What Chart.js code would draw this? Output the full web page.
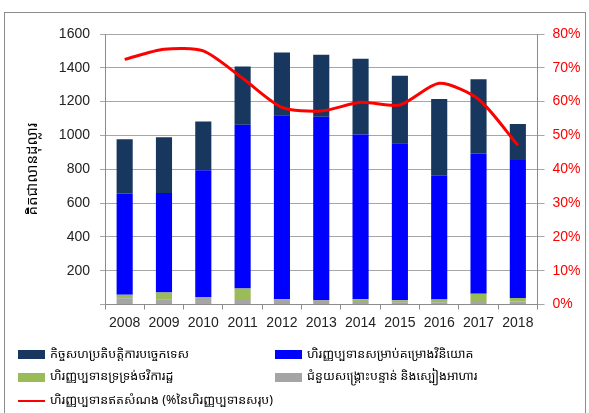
<!DOCTYPE html>
<html><head><meta charset="utf-8">
<script src="https://cdn.jsdelivr.net/npm/chart.js@4.4.1/dist/chart.umd.min.js"></script>
<style>
html,body{margin:0;padding:0;background:#fff;}
#wrap{position:relative;width:589px;height:413px;overflow:hidden;}
#frame{position:absolute;left:4px;top:12px;width:582px;height:430px;border:1px solid #8c8c8c;box-sizing:border-box;}
canvas{position:absolute;left:0;top:0;}
.lg{position:absolute;font-family:"Noto Sans Khmer","Khmer OS","Noto Sans",sans-serif;font-size:12.5px;color:#000;white-space:nowrap;line-height:16px;}
.sw{position:absolute;width:27px;height:9px;}
.ln{position:absolute;width:27px;height:2px;background:#ff0000;}
</style></head><body>
<div id="wrap">
<div id="frame"></div>
<canvas id="c" width="589" height="413"></canvas>
<div id="legend"></div>
</div>
<script>
const years = ['2008','2009','2010','2011','2012','2013','2014','2015','2016','2017','2018'];
const technicalCooperation = [322, 330, 288, 345, 371, 367, 448, 399, 454, 440, 212];
const investmentProjects = [599, 589, 749, 968, 1089, 1083, 974, 929, 732, 830, 816];
const budgetSupport = [20, 40, 6, 68, 0, 0, 16, 11, 15, 48, 21];
const emergencyFoodAid = [37, 31, 39, 27, 31, 27, 15, 14, 14, 15, 18];
const grantShare = [72.5, 75.5, 75.0, 66.9, 58.3, 57.2, 59.8, 59.0, 65.4, 60.7, 47.1];

const labelTechnical = 'កិច្ចសហប្រតិបត្តិការបច្ចេកទេស';
const labelInvestment = 'ហិរញ្ញប្បទានសម្រាប់គម្រោងវិនិយោគ';
const labelBudget = 'ហិរញ្ញប្បទានទ្រទ្រង់ថវិការដ្ឋ';
const labelEmergency = 'ជំនួយសង្គ្រោះបន្ទាន់ និងស្បៀងអាហារ';
const labelGrant = 'ហិរញ្ញប្បទានឥតសំណង (%នៃហិរញ្ញប្បទានសរុប)';
const yTitle = 'គិតជាលានដុល្លារ';

const colNavy = '#17375e', colBlue = '#0000ff', colGreen = '#9bbb59', colGray = '#a5a5a5', colRed = '#ff0000';

const barCommon = {type:'bar', order:1, yAxisID:'y', barPercentage:0.41, categoryPercentage:1, borderWidth:0};

new Chart(document.getElementById('c'), {
  data: {
    labels: years,
    datasets: [
      {type:'line', label: labelGrant, data: grantShare, yAxisID:'y1', order:0, borderColor: colRed, borderWidth:3, pointRadius:0, tension:0.25, fill:false},
      Object.assign({label: labelEmergency, data: emergencyFoodAid, backgroundColor: colGray}, barCommon),
      Object.assign({label: labelBudget, data: budgetSupport, backgroundColor: colGreen}, barCommon),
      Object.assign({label: labelInvestment, data: investmentProjects, backgroundColor: colBlue}, barCommon),
      Object.assign({label: labelTechnical, data: technicalCooperation, backgroundColor: colNavy}, barCommon)
    ]
  },
  options: {
    responsive:false, animation:false, devicePixelRatio:1,
    layout:{padding:{top:34,left:0,right:0,bottom:0}},
    plugins:{legend:{display:false}, tooltip:{enabled:false}},
    scales:{
      x:{stacked:true, offset:true,
         grid:{offset:true, drawOnChartArea:false, drawTicks:true, tickLength:5, color:'#8c8c8c'},
         border:{display:true, color:'#8c8c8c'},
         ticks:{color:'#222', font:{family:'"Liberation Sans", Arial, sans-serif', size:14}, padding:5, maxRotation:0, autoSkip:false},
         afterFit:(s)=>{s.height = 108.5;}
      },
      y:{stacked:true, position:'left', min:0, max:1600,
         grid:{color:'#a6a6a6', drawTicks:true, tickLength:5},
         border:{display:true, color:'#8c8c8c'},
         ticks:{stepSize:200, color:'#222', font:{family:'"Liberation Sans", Arial, sans-serif', size:14}, padding:10,
                callback:(v)=> v===0 ? '' : v},
         title:{display:true, text:yTitle, color:'#000', font:{family:'"Noto Sans Khmer","Khmer OS","Noto Sans",sans-serif', size:15}, padding:{top:24,bottom:0}},
         afterFit:(s)=>{s.width = 105;}
      },
      y1:{position:'right', min:0, max:80,
         grid:{drawOnChartArea:false, drawTicks:true, tickLength:7, color:'#a6a6a6'},
         border:{display:true, color:'#8c8c8c'},
         ticks:{stepSize:10, color:colRed, font:{family:'"Liberation Sans", Arial, sans-serif', size:14}, padding:8,
                callback:(v)=> v + '%'},
         afterFit:(s)=>{s.width = 51.5;}
      }
    }
  }
});

const legendItems = [
  {text: labelTechnical, color: colNavy, x: 18, y: 354.5, kind:'box'},
  {text: labelInvestment, color: colBlue, x: 275, y: 354.5, kind:'box'},
  {text: labelBudget, color: colGreen, x: 18, y: 377, kind:'box'},
  {text: labelEmergency, color: colGray, x: 275, y: 377, kind:'box'},
  {text: labelGrant, color: colRed, x: 18, y: 400.5, kind:'line'}
];
const lg = document.getElementById('legend');
legendItems.forEach(it => {
  const s = document.createElement('div');
  if (it.kind === 'box') { s.className='sw'; s.style.background = it.color; s.style.left = it.x+'px'; s.style.top = (it.y-4.5)+'px'; }
  else { s.className='ln'; s.style.left = it.x+'px'; s.style.top = (it.y-1)+'px'; }
  lg.appendChild(s);
  const t = document.createElement('div');
  t.className='lg'; t.textContent = it.text; t.style.left = (it.x+32)+'px'; t.style.top = (it.y-9)+'px';
  lg.appendChild(t);
});
</script>
</body></html>
